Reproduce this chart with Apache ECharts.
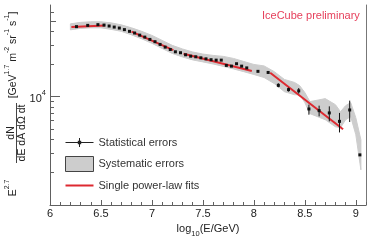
<!DOCTYPE html>
<html><head><meta charset="utf-8">
<script src="https://cdn.jsdelivr.net/npm/echarts@6/dist/echarts.min.js"></script>
<style>html,body{margin:0;padding:0;background:#fff}#c{width:374px;height:240px}</style>
</head><body><div id="c"></div>
<script>
// ---- data ----
const pointX = [6.26,6.37,6.47,6.53,6.58,6.63,6.68,6.73,6.78,6.83,6.88,6.93,6.98,7.03,7.08,7.13,7.18,7.23,7.28,7.33,7.38,7.43,7.48,7.53,7.58,7.63,7.68,7.73,7.78,7.83,7.88,7.93,8.04,8.14,8.24,8.34,8.44,8.54,8.64,8.74,8.84,8.94,9.04];
const pointY = [44200,45400,46100,45700,44800,43800,42900,41500,40000,38600,36900,35400,33700,32100,30300,28600,27200,25900,25400,24300,23600,23300,22800,22300,21900,21700,21700,19400,19100,20100,19100,18400,17100,16700,12700,11600,11300,7690,7420,7070,5910,7530,2900];
const statLow  = [null,null,null,null,null,null,null,null,null,null,null,null,null,null,null,null,null,null,null,null,null,null,null,null,null,null,null,null,null,null,null,null,null,null,12190,11130,10660,6810,6570,5910,4670,5830,null];
const statHigh = [null,null,null,null,null,null,null,null,null,null,null,null,null,null,null,null,null,null,null,null,null,null,null,null,null,null,null,null,null,null,null,null,null,null,13280,12110,11990,8430,8250,8130,7070,9180,null];

const bandX    = [6.2,6.3,6.4,6.5,6.6,6.7,6.8,6.9,7.0,7.1,7.2,7.3,7.4,7.5,7.6,7.7,7.8,7.9,8.0,8.1,8.2,8.3,8.4,8.45,8.5,8.55,8.6,8.7,8.8,8.85,8.9,8.95,9.0,9.05];
const bandLow  = [41300,42600,43100,43100,41700,40000,37100,34100,31000,27800,25000,23200,21800,20900,20000,19000,18000,17000,16000,15000,13200,11100,10400,10400,8800,6960,6670,6120,5270,5160,6120,6530,4450,2110];
const bandHigh = [46900,48400,49000,49000,47900,45900,43100,40000,36700,33000,29700,27500,25800,24700,24000,23500,22500,21100,19800,19200,17000,14400,13500,12600,10900,8990,9180,9580,8430,7260,8250,8800,6390,4000];

const fit1X = [6.21, 6.54],  fit1Y = [43800, 45400];
const fit2X = [6.80, 7.21],  fit2Y = [39700, 26800];
const fit3X = [7.31, 7.98],  fit3Y = [24900, 17200];
const fit4X = [8.16, 8.875], fit4Y = [16600, 5000];

const xMajorTicks = [6, 6.5, 7, 7.5, 8, 8.5, 9];
const xMinorTicks = [6.1,6.2,6.3,6.4,6.6,6.7,6.8,6.9,7.1,7.2,7.3,7.4,7.6,7.7,7.8,7.9,8.1,8.2,8.3,8.4,8.6,8.7,8.8,8.9,9.1];
const yMinorTicks = [2000,3000,4000,5000,6000,7000,8000,9000,20000,30000,40000,60000];
const yMidTicks = [50000];
const yMajorTicks = [10000];

// ---- chart ----
const FONT = '"Liberation Sans", Arial, sans-serif';
const AX = '#606060';
const TX = '#222';
const RED = '#dd2930';
const L10 = Math.log10;

const chart = echarts.init(document.getElementById('c'), null, {renderer: 'canvas'});

function fitSeries(xs, ys) {
  return {
    type: 'line', name: 'Single power-law fits', xAxisIndex: 0, yAxisIndex: 0,
    data: xs.map((x, i) => [x, ys[i]]), showSymbol: false, symbol: 'none',
    color: RED, lineStyle: {color: RED, width: 2}, z: 4, silent: true
  };
}

const subRich = {
  a: {fontSize: 11, lineHeight: 14, verticalAlign: 'top', color: TX, fontFamily: FONT},
  b: {fontSize: 7.5, lineHeight: 8, verticalAlign: 'bottom', color: TX, fontFamily: FONT}
};

const tickAxisBase = (vals, len) => ({
  type: 'value', min: 3, max: L10(70000), position: 'left',
  axisLine: {show: false, onZero: false},
  axisTick: {show: true, inside: true, length: len, customValues: vals.map(L10), lineStyle: {color: AX}},
  axisLabel: {show: false}, splitLine: {show: false}
});

const majorAxis = tickAxisBase(yMajorTicks, 10);
majorAxis.axisLabel = {
  show: true, customValues: yMajorTicks.map(L10), margin: 4,
  formatter: () => '{a|10}{s|4}',
  rich: {
    a: {fontSize: 11, lineHeight: 15, verticalAlign: 'bottom', color: TX, fontFamily: FONT},
    s: {fontSize: 7.5, lineHeight: 8, verticalAlign: 'top', color: TX, fontFamily: FONT}
  }
};

const yRich = {
  m: {fontSize: 10.5, lineHeight: 15, verticalAlign: 'bottom', fill: TX, fontFamily: FONT},
  s: {fontSize: 7, lineHeight: 8, verticalAlign: 'top', fill: TX, fontFamily: FONT}
};

const option = {
  animation: false,
  textStyle: {fontFamily: FONT},
  title: {
    text: 'IceCube preliminary', left: 262, top: 10, padding: 0,
    textStyle: {fontSize: 11, fontWeight: 'normal', color: '#e6405c', fontFamily: FONT}
  },
  grid: {left: 50, right: 8, top: 5, bottom: 35, containLabel: false, outerBoundsMode: 'none'},
  legend: {
    orient: 'vertical', left: 65, top: 135, padding: 0,
    itemWidth: 28, itemHeight: 15, itemGap: 6, selectedMode: false,
    textStyle: {fontSize: 11, color: '#333', fontFamily: FONT},
    data: [
      {name: 'Statistical errors', icon: 'path://M0,0 M28,15 M0,7 h28 v1 h-28 z M13.5,3 h1 v9 h-1 z M12.3,5.8 h3.4 v3.4 h-3.4 z', itemStyle: {color: '#222'}},
      {name: 'Systematic errors', icon: 'rect', itemStyle: {color: '#cdcdcd', borderColor: '#444', borderWidth: 1}},
      {name: 'Single power-law fits', icon: 'path://M0,0 M28,15 M0,6.5 h28 v2 h-28 z', itemStyle: {color: RED}}
    ]
  },
  xAxis: [
    {
      type: 'value', min: 6, max: 9.1, position: 'bottom',
      axisLine: {show: true, onZero: false, lineStyle: {color: AX}},
      axisTick: {show: true, inside: true, length: 5, customValues: xMajorTicks, lineStyle: {color: AX}},
      axisLabel: {customValues: xMajorTicks, margin: 3, fontSize: 11, color: TX, fontFamily: FONT},
      splitLine: {show: false},
      name: '{a|log}{b|10}{a|(E/GeV)}', nameLocation: 'middle', nameGap: 16,
      nameTextStyle: {fontSize: 11, color: TX, fontFamily: FONT, rich: subRich}
    },
    {
      type: 'value', min: 6, max: 9.1, position: 'bottom',
      axisLine: {show: false, onZero: false},
      axisTick: {show: true, inside: true, length: 3, customValues: xMinorTicks, lineStyle: {color: AX}},
      axisLabel: {show: false}, splitLine: {show: false}
    }
  ],
  yAxis: [
    {
      type: 'log', min: 1000, max: 70000, position: 'left',
      axisLine: {show: true, onZero: false, lineStyle: {color: AX}},
      axisTick: {show: false}, axisLabel: {show: false}, splitLine: {show: false}
    },
    tickAxisBase(yMinorTicks, 4),
    tickAxisBase(yMidTicks, 6),
    majorAxis,
    {
      type: 'value', min: 0, max: 1, position: 'right',
      axisLine: {show: true, onZero: false, lineStyle: {color: '#777'}},
      axisTick: {show: false}, axisLabel: {show: false}, splitLine: {show: false}
    }
  ],
  graphic: [
    {type: 'text', x: 11, y: 188, rotation: Math.PI / 2,
     style: {text: '{m|E}{s|2.7}', rich: yRich, align: 'center', verticalAlign: 'middle', fontFamily: FONT, fill: TX}},
    {type: 'text', x: 11.5, y: 133, rotation: Math.PI / 2,
     style: {text: 'dN', fontSize: 10.5, fontFamily: FONT, fill: TX, align: 'center', verticalAlign: 'middle'}},
    {type: 'line', shape: {x1: 16.5, y1: 103, x2: 16.5, y2: 163}, style: {stroke: '#444', lineWidth: 1}},
    {type: 'text', x: 22, y: 133, rotation: Math.PI / 2,
     style: {text: 'dE dA d\u03A9 dt', fontSize: 10.5, fontFamily: FONT, fill: TX, align: 'center', verticalAlign: 'middle'}},
    {type: 'text', x: 11, y: 55, rotation: Math.PI / 2,
     style: {text: '{m|[GeV}{s|1.7}{m| m}{s|-2}{m| sr}{s|-1}{m| s}{s|-1}{m|]}', rich: yRich, align: 'center', verticalAlign: 'middle', fontFamily: FONT, fill: TX}}
  ],
  series: [
    {
      type: 'custom', name: 'Systematic errors', xAxisIndex: 0, yAxisIndex: 0,
      data: bandX.map((x, i) => [x, bandLow[i], bandHigh[i]]),
      encode: {x: 0, y: 1}, itemStyle: {color: '#cdcdcd'}, z: 2, silent: true, clip: true,
      renderItem: function (params, api) {
        if (params.dataIndex !== 0) return null;
        const top = bandX.map((x, i) => api.coord([x, bandHigh[i]]));
        const bot = bandX.map((x, i) => api.coord([x, bandLow[i]])).reverse();
        return {type: 'polygon', shape: {points: top.concat(bot)}, style: {fill: '#cdcdcd', stroke: '#cdcdcd', lineWidth: 1, lineJoin: 'round'}};
      }
    },
    fitSeries(fit1X, fit1Y),
    fitSeries(fit2X, fit2Y),
    fitSeries(fit3X, fit3Y),
    fitSeries(fit4X, fit4Y),
    {
      type: 'custom', name: 'Statistical errors', xAxisIndex: 0, yAxisIndex: 0,
      data: pointX.map((x, i) => [x, pointY[i], statLow[i], statHigh[i]]),
      encode: {x: 0, y: 1}, itemStyle: {color: '#222'}, z: 6, silent: true,
      renderItem: function (params, api) {
        const i = params.dataIndex;
        const p = api.coord([pointX[i], pointY[i]]);
        const children = [];
        if (statLow[i] != null && statHigh[i] != null) {
          const a = api.coord([pointX[i], statHigh[i]]);
          const b = api.coord([pointX[i], statLow[i]]);
          children.push({type: 'line', shape: {x1: a[0], y1: a[1], x2: b[0], y2: b[1]}, style: {stroke: '#111', lineWidth: 1}});
        }
        children.push({type: 'rect', shape: {x: p[0] - 1.5, y: p[1] - 1.5, width: 3, height: 3}, style: {fill: '#111'}});
        return {type: 'group', children: children};
      }
    }
  ]
};
chart.setOption(option);
</script>
</body></html>
